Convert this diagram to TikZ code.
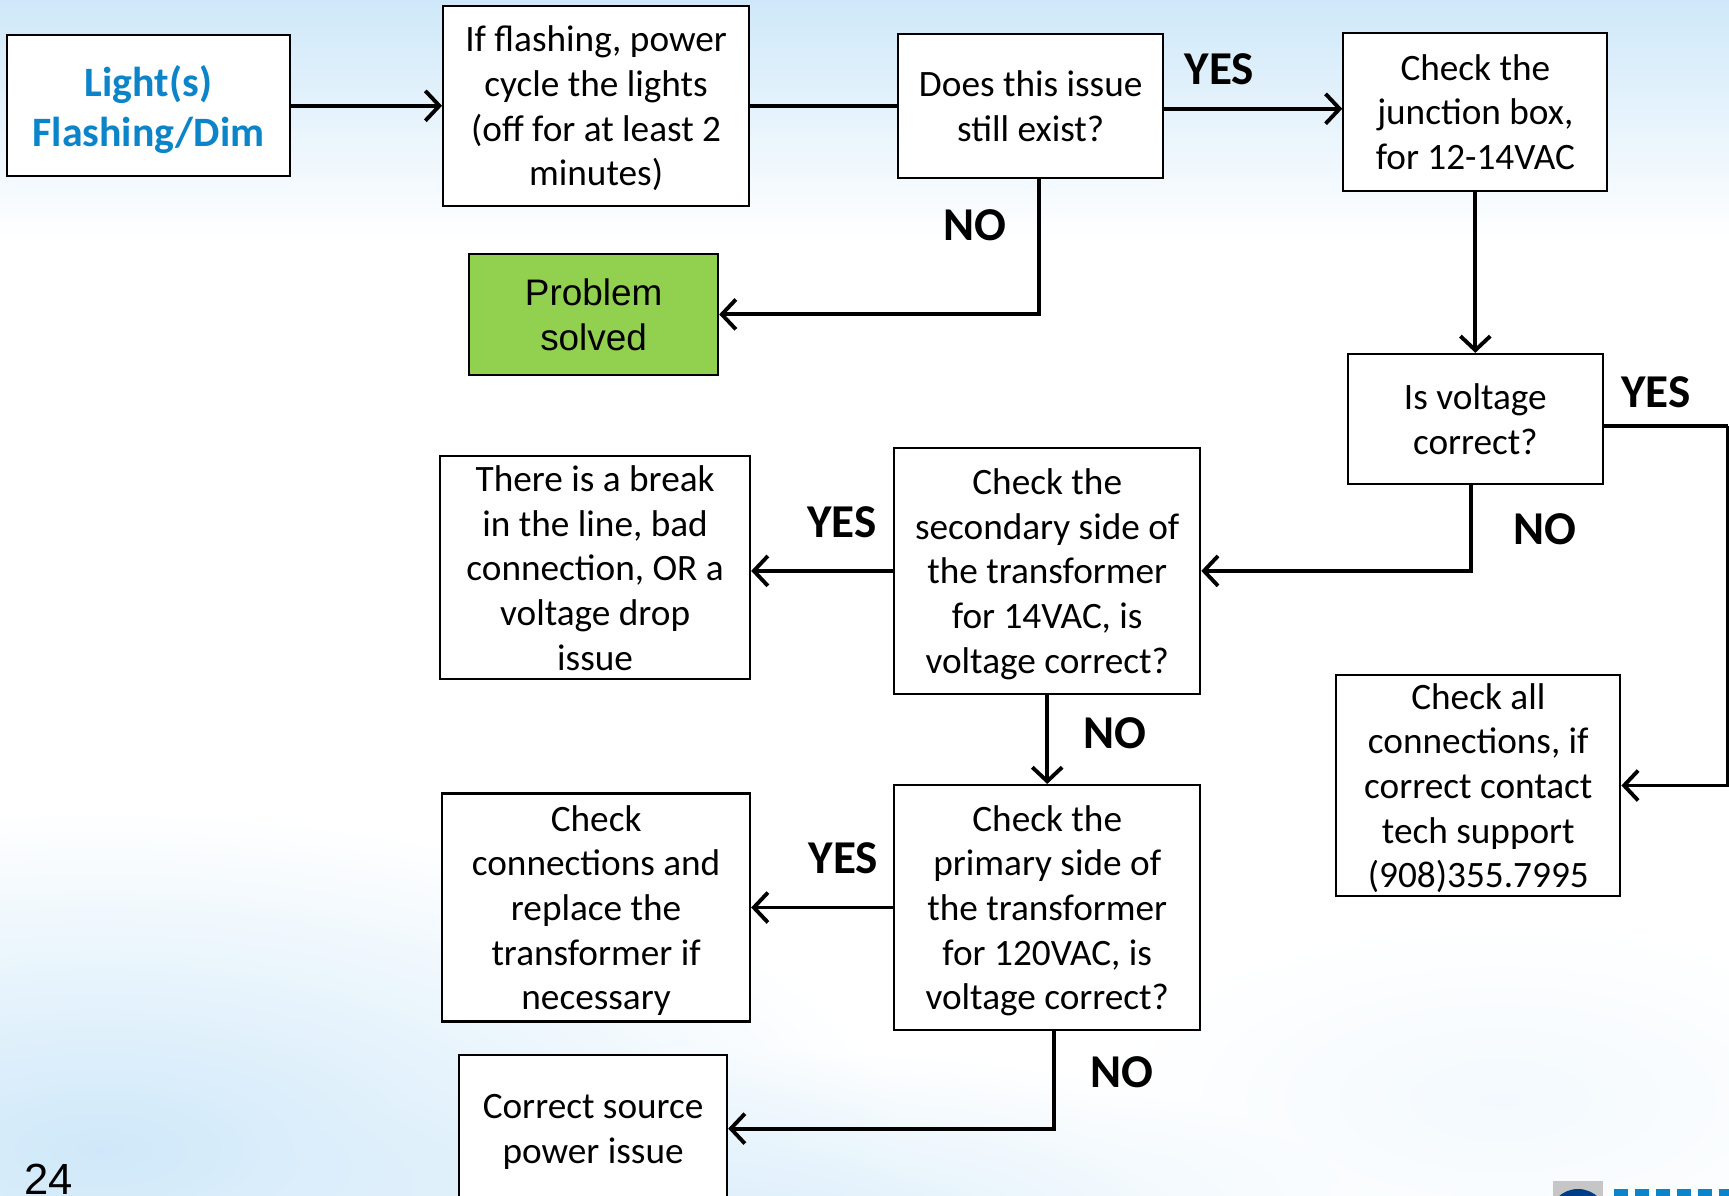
\documentclass[tikz,border=0pt]{standalone}
\usepackage{fontspec}
\setmainfont{Carlito}
\newfontfamily\arialfont{Liberation Sans}
\usetikzlibrary{positioning}
\usetikzlibrary{arrows.meta}
\usetikzlibrary{fadings}
\definecolor{skyblue}{HTML}{CFE8F9}
\definecolor{titleblue}{HTML}{0B84C9}
\definecolor{solvedgreen}{HTML}{92D050}
\tikzfading[name=softblob, inner color=transparent!0, outer color=transparent!100]
\tikzset{>={Straight Barb[length=4pt,width=8.5pt,line width=1.1pt]},
flowbox/.style={
draw,
fill=white,
line width=.6pt,
align=center,
inner sep=0pt,
text depth=0pt,
font=\fontsize{10.6pt}{12.7pt}\selectfont},
answer/.style={
inner sep=0pt,
font=\fontsize{13.4pt}{15pt}\selectfont\bfseries},
flow/.style={
->,
line width=1.1pt}}

\begin{document}
\begin{tikzpicture}
\useasboundingbox (0,0) rectangle (17.29,-11.96);
% backdrop
\shade[top color=skyblue, bottom color=white] (0,0) rectangle (17.29,-2.4);
\fill[skyblue, path fading=softblob] (-7,-8.1) rectangle (9,-14.9);
\fill[skyblue, opacity=.7, path fading=softblob] (2.3,-10.5) rectangle (13.7,-14.1);
\fill[skyblue, opacity=.25, path fading=softblob] (11,-9.2) rectangle (19,-12.8);
% boxes
\node[flowbox, minimum width=2.83cm, minimum height=1.41cm, text=titleblue,
font=\fontsize{11.9pt}{14.1pt}\selectfont\bfseries] (light) at (1.485,-1.058) {Light(s)\\Flashing/Dim};
\node[flowbox, minimum width=3.06cm, minimum height=2cm, right=1.51cm of light] (flash) {If flashing, power\\cycle the lights\\(off for at least 2\\minutes)};
\node[flowbox, minimum width=2.65cm, minimum height=1.44cm, right=1.47cm of flash] (exist) {Does this issue\\still exist?};
\node[flowbox, minimum width=2.64cm, minimum height=1.58cm, right=1.78cm of exist, yshift=-.06cm] (junction) {Check the\\junction box,\\for 12-14VAC};
\node[flowbox, minimum width=2.55cm, minimum height=1.3cm, below=1.61cm of junction] (voltage) {Is voltage\\correct?};
\node[flowbox, minimum width=2.84cm, minimum height=2.21cm, below=1.89cm of voltage, xshift=.03cm] (checkall) {Check all\\connections, if\\correct contact\\tech support\\(908)355.7995};
\node[flowbox, minimum width=2.49cm, minimum height=1.21cm, below=.46cm of flash, xshift=-.025cm, fill=solvedgreen,
font=\arialfont\fontsize{10.5pt}{12.8pt}\selectfont] (solved) {Problem\\solved};
\node[flowbox, minimum width=3.06cm, minimum height=2.46cm, below=2.68cm of exist, xshift=.165cm] (secondary) {Check the\\secondary side of\\the transformer\\for 14VAC, is\\voltage correct?};
\node[flowbox, minimum width=3.06cm, minimum height=2.45cm, below=.89cm of secondary] (primary) {Check the\\primary side of\\the transformer\\for 120VAC, is\\voltage correct?};
\node[flowbox, minimum width=3.1cm, minimum height=2.23cm, left=1.42cm of secondary, yshift=.03cm] (break) {There is a break\\in the line, bad\\connection, OR a\\voltage drop\\issue};
\node[flowbox, minimum width=3.08cm, minimum height=2.28cm, left=1.42cm of primary] (replace) {Check\\connections and\\replace the\\transformer if\\necessary};
\node[flowbox, minimum width=2.68cm, minimum height=1.48cm, below=.31cm of replace, xshift=-.03cm] (source) {Correct source\\power issue};
\coordinate[right=1.24cm of voltage, yshift=-.07cm] (rail);
% connectors
\draw[flow] (light.east) -- (flash.west);
\draw[line width=1.1pt] (flash.east) -- (exist.west);
\draw[flow] ([yshift=-.03cm]exist.east) -- node[answer, pos=.31, above=.22cm] (yesexist) {YES} ([yshift=.03cm]junction.west);
\draw[flow] ([xshift=.08cm]exist.south) |- node[answer, pos=.17, left=.3cm] (noexist) {NO} (solved.east);
\draw[flow] (junction.south) -- (voltage.north);
\draw[flow] ([xshift=-.04cm]voltage.south) |- node[answer, pos=.26, right=.4cm] (novoltage) {NO} (secondary.east);
\draw[line width=1.1pt] ([yshift=-.07cm]voltage.east) -- node[answer, pos=.42, above=.16cm] (yesvoltage) {YES} (rail);
\draw[flow] (rail) |- (checkall.east);
\draw[flow] (secondary.west) -- node[answer, pos=.36, above=.31cm] (yessecondary) {YES} (secondary.west -| break.east);
\draw[flow] (secondary.south) -- node[answer, pos=.43, right=.34cm] (nosecondary) {NO} (primary.north);
\draw[flow] (primary.west) -- node[answer, pos=.35, above=.32cm] (yesprimary) {YES} (primary.west -| replace.east);
\draw[flow] ([xshift=.07cm]primary.south) |- node[answer, pos=.21, right=.34cm] (noprimary) {NO} (source.east);
% page number and logo
\node[anchor=base west, inner sep=0pt, font=\arialfont\fontsize{12.4pt}{14pt}\selectfont] (pagenum) at (.24,-11.94) {24};
\fill[gray!45] (15.53,-11.81) rectangle (16.03,-11.96);
\fill[black!20!blue!60!cyan!60!black] (15.78,-12.18) circle (.29);
\foreach \x in {16.14,16.35,16.56,16.77,16.98,17.19}
\fill[titleblue] (\x,-11.89) rectangle ++(.14,-.07);
\end{tikzpicture}
\end{document}
